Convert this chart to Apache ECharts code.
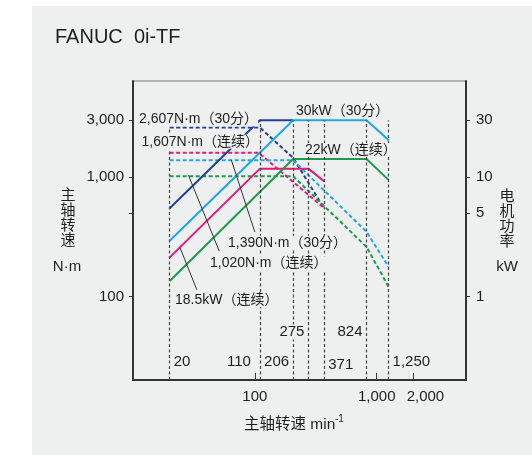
<!DOCTYPE html>
<html>
<head>
<meta charset="utf-8">
<title>FANUC 0i-TF</title>
<script src="https://cdn.jsdelivr.net/npm/echarts@6.0.0/dist/echarts.min.js"></script>
<style>
html, body { margin: 0; padding: 0; background: #fff; }
#panel { position: absolute; left: 32px; top: 6px; width: 500px; height: 449px; background: #eef0ef; }
#chart { position: absolute; left: 0; top: 0; width: 532px; height: 455px; }
</style>
</head>
<body>
<div id="panel"></div>
<div id="chart"></div>
<script>
// 主轴转速标记 (min-1)
const speedMarks = [20, 110, 206, 275, 371, 824, 1250];
// 坐标轴刻度
const speedTicks = [100, 1000];
const speedExtraTicks = [2000];
const torqueTicks = [100, 500, 1000, 3000];
const torqueLabels = [100, 1000, 3000];
const powerTicks = [1, 5, 10, 30];

// 扭矩曲线 [min-1, N·m]
const torque30minA = [[20, 2607], [110, 2607], [206, 1455], [371, 545]];
const torqueContA = [[20, 1607], [107, 1607], [371, 550]];
const torque30minB = [[20, 1390], [206, 1390], [824, 349], [1250, 178]];
const torqueContB = [[20, 1020], [206, 1020], [824, 261], [1250, 121]];

// 功率曲线 [min-1, kW]
const power30minA = [[20, 5.5], [110, 30], [206, 30]];
const powerContA = [[20, 2.13], [110, 11.8], [275, 11.8], [371, 9.2]];
const power30minB = [[20, 2.94], [206, 30], [824, 30], [1250, 20.5]];
const powerContB = [[20, 1.35], [206, 14.2], [824, 14.2], [1250, 9.5]];

const FONT = '"Liberation Sans", "Noto Sans CJK SC", sans-serif';
const BG = '#eef0ef';
const TXT = '#1e1e1e';
const NAVY = '#223f96', SKY = '#1fa6e6', PINK = '#e5197c', GREEN = '#1f9a4c';
const Y_MIN = 20;

const fmt = v => Number(v).toLocaleString('en-US');

// 标签位置（左右/高度）
const labelSide = { 20: 'right', 110: 'left', 206: 'left', 275: 'left', 371: 'right', 824: 'left', 1250: 'right' };
const labelLevel = { 275: 50.5, 824: 50.5, 371: 26.7 };

let chart = echarts.init(document.getElementById('chart'), null, { renderer: 'canvas' });

function solid(name, data, color) {
  return {
    name: name, type: 'line', yAxisIndex: 1, data: data, symbol: 'none',
    lineStyle: { color: color, width: 2 }, z: 3, silent: true
  };
}
function dashed(name, data, color) {
  return {
    name: name, type: 'line', yAxisIndex: 0, data: data, symbol: 'none',
    lineStyle: { color: color, width: 2, type: [4, 2.5] }, z: 2, silent: true
  };
}

function note(text, x, y) {
  return {
    type: 'text', x: x, y: y, z: 5, silent: true,
    style: {
      text: text, fontSize: 14, fontFamily: FONT, fill: TXT,
      verticalAlign: 'middle', backgroundColor: BG, lineHeight: 14
    }
  };
}

chart.setOption({
  animation: false,
  textStyle: { fontFamily: FONT },
  grid: { left: 133, right: 66, top: 81, bottom: 75, show: true, borderColor: '#777', borderWidth: 1 },
  xAxis: {
    type: 'log', min: 10, max: 5400,
    axisLine: { show: true, lineStyle: { color: '#333', width: 2 } },
    axisTick: { show: true, inside: true, length: 7, interval: 0, customValues: speedTicks, lineStyle: { color: '#333' } },
    axisLabel: { customValues: speedTicks, interval: 0, formatter: fmt, fontSize: 15, color: TXT, margin: 9 },
    minorTick: { show: false },
    splitLine: { show: false }
  },
  yAxis: [
    {
      type: 'log', min: Y_MIN, max: 6400, position: 'left',
      axisLine: { show: true, lineStyle: { color: '#333', width: 2 } },
      axisTick: { show: true, length: 4, interval: 0, customValues: torqueTicks, lineStyle: { color: '#333' } },
      axisLabel: { customValues: torqueLabels, interval: 0, formatter: fmt, fontSize: 15, color: TXT, margin: 9 },
      splitLine: { show: false }
    },
    {
      type: 'log', min: 0.2, max: 64, position: 'right',
      axisLine: { show: true, lineStyle: { color: '#333', width: 2 } },
      axisTick: { show: true, length: 4, interval: 0, customValues: powerTicks, lineStyle: { color: '#333' } },
      axisLabel: { customValues: powerTicks, interval: 0, formatter: fmt, fontSize: 15, color: TXT, margin: 10 },
      splitLine: { show: false }
    }
  ],
  series: [
    dashed('2,607N·m(30分)', torque30minA, NAVY),
    dashed('1,607N·m(连续)', torqueContA, PINK),
    dashed('1,390N·m(30分)', torque30minB, SKY),
    Object.assign(dashed('1,020N·m(连续)', torqueContB, GREEN), {
      // 引出线
      markLine: {
        silent: true, symbol: 'none', z: 4,
        lineStyle: { color: '#333', width: 1, type: 'solid' },
        label: { show: false },
        data: [
          [{ coord: [28.5, 1040] }, { coord: [51, 241] }],
          [{ coord: [64, 1400] }, { coord: [100, 347] }],
          [{ coord: [24.4, 255] }, { coord: [33.4, 114] }]
        ]
      }
    }),
    solid('18.5kW(连续)', powerContA, PINK),
    solid('22kW(连续)', powerContB, GREEN),
    solid('30kW(30分) A', power30minA, NAVY),
    solid('30kW(30分)', power30minB, SKY),
    {
      name: 'speeds', type: 'scatter', yAxisIndex: 0, z: 6, silent: true,
      symbolSize: 0, itemStyle: { color: TXT, opacity: 1 },
      data: speedMarks.map(s => ({
        value: [s, labelLevel[s] || 28.5],
        label: {
          show: true, position: labelSide[s], distance: s === 110 ? 9 : 4,
          formatter: p => fmt(p.value[0]), fontSize: 15, color: TXT,
          backgroundColor: s === 275 ? BG : 'transparent'
        }
      })),
      markLine: {
        silent: true, symbol: 'none', z: 4,
        lineStyle: { color: '#444', width: 1.2, type: [3, 2.5] },
        label: { show: false },
        data: speedMarks.map(s => [
          { coord: [s, Y_MIN] },
          { coord: [s, s === 20 ? torque30minA[0][1] : power30minB[1][1] * 100] }
        ])
      }
    },
    {
      // x 轴 2,000 刻度
      name: 'xtick', type: 'scatter', yAxisIndex: 0, z: 6, silent: true,
      symbolSize: 0, itemStyle: { color: TXT, opacity: 1 },
      data: speedExtraTicks.map(s => [s, Y_MIN]),
      label: {
        show: true, position: 'bottom', distance: 9, offset: [12, 0],
        formatter: p => fmt(p.value[0]), fontSize: 15, color: TXT
      },
      markLine: {
        silent: true, symbol: 'none', z: 4,
        lineStyle: { color: '#333', width: 1, type: 'solid' },
        label: { show: false },
        data: speedExtraTicks.map(s => [{ coord: [s, Y_MIN] }, { coord: [s, 22.9] }])
      }
    }
  ],
  graphic: [
    { type: 'text', x: 55, y: 37, silent: true,
      style: { text: 'FANUC  0i-TF', fontSize: 20, fontFamily: FONT, fill: TXT, verticalAlign: 'middle' } },
    { type: 'text', x: 68, y: 188, silent: true,
      style: { text: '主\n轴\n转\n速', fontSize: 15, lineHeight: 15, fontFamily: FONT, fill: TXT, align: 'center' } },
    { type: 'text', x: 67, y: 267, silent: true,
      style: { text: 'N·m', fontSize: 15, fontFamily: FONT, fill: TXT, align: 'center', verticalAlign: 'middle' } },
    { type: 'text', x: 507, y: 189, silent: true,
      style: { text: '电\n机\n功\n率', fontSize: 15, lineHeight: 15, fontFamily: FONT, fill: TXT, align: 'center' } },
    { type: 'text', x: 507, y: 267, silent: true,
      style: { text: 'kW', fontSize: 15, fontFamily: FONT, fill: TXT, align: 'center', verticalAlign: 'middle' } },
    { type: 'text', x: 244, y: 425, silent: true,
      style: { text: '主轴转速 min', fontSize: 15.5, fontFamily: FONT, fill: TXT, verticalAlign: 'middle' } },
    { type: 'text', x: 335, y: 419.5, silent: true,
      style: { text: '-1', fontSize: 10, fontFamily: FONT, fill: TXT, verticalAlign: 'middle' } },
    note('2,607N·m（30分）', 139, 119.5),
    note('1,607N·m（连续）', 141.5, 141.7),
    note('30kW（30分）', 296, 110.7),
    note('22kW（连续）', 305, 150),
    note('1,390N·m（30分）', 228, 242.7),
    note('1,020N·m（连续）', 210, 263.3),
    note('18.5kW（连续）', 175, 300)
  ]
});
</script>
</body>
</html>
